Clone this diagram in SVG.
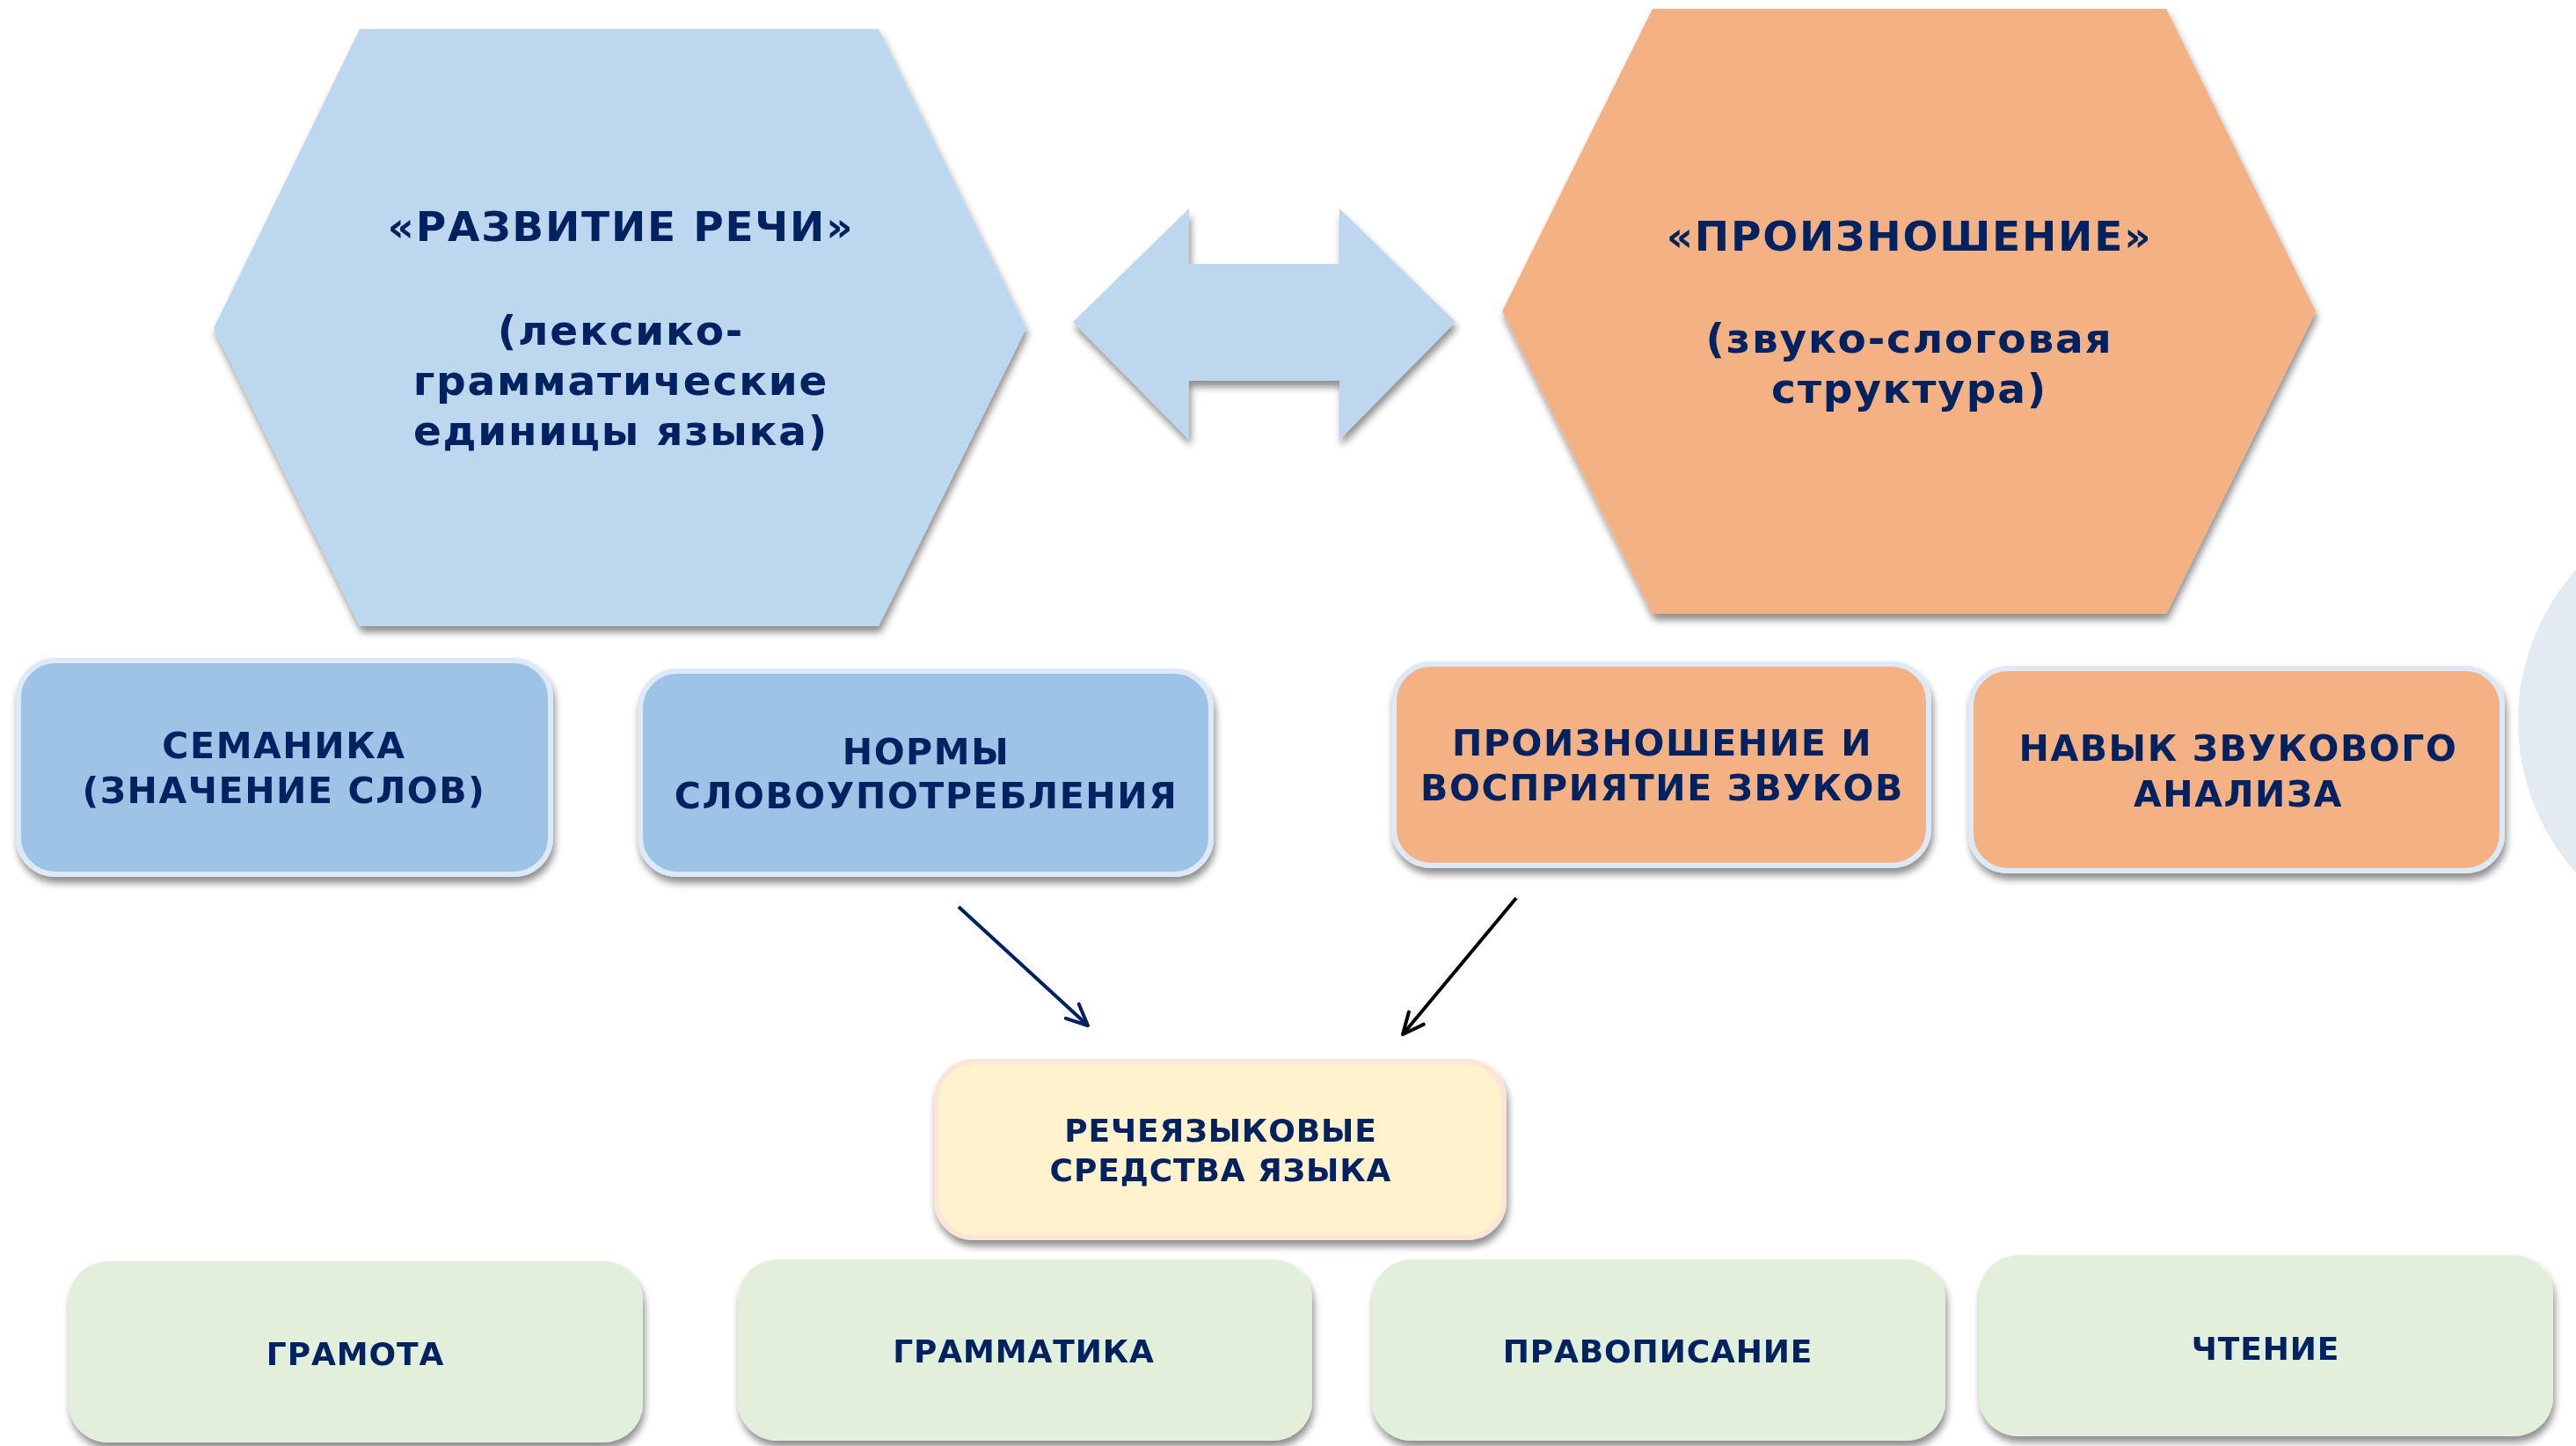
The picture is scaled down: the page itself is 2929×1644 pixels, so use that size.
<svg xmlns="http://www.w3.org/2000/svg" width="2929" height="1644" viewBox="0 0 2929 1644">
<defs>
<filter id="sh" x="-10%" y="-10%" width="120%" height="130%">
<feGaussianBlur in="SourceAlpha" stdDeviation="4"/>
<feOffset dx="2" dy="7" result="b"/>
<feComponentTransfer><feFuncA type="linear" slope="0.45"/></feComponentTransfer>
<feMerge><feMergeNode/><feMergeNode in="SourceGraphic"/></feMerge>
</filter>
<marker id="mNavy" markerUnits="userSpaceOnUse" viewBox="0 0 30 30" markerWidth="30" markerHeight="30" refX="27" refY="15" orient="auto">
<path d="M3,4 L27,15 L3,26" fill="none" stroke="#002060" stroke-width="4" stroke-linecap="round" stroke-linejoin="round"/>
</marker>
<marker id="mBlack" markerUnits="userSpaceOnUse" viewBox="0 0 30 30" markerWidth="30" markerHeight="30" refX="27" refY="15" orient="auto">
<path d="M3,4 L27,15 L3,26" fill="none" stroke="#000000" stroke-width="4" stroke-linecap="round" stroke-linejoin="round"/>
</marker>
</defs>
<style>
text{font-family:"DejaVu Sans","Verdana","Liberation Sans",sans-serif;font-weight:bold;fill:#002060;text-anchor:middle}
.big{font-size:47px;letter-spacing:1.8px}
.mid{font-size:41px;letter-spacing:1.6px}
.sm{font-size:36px;letter-spacing:0.9px}
.hexB{fill:#bdd7ee}
.hexO{fill:#f4b183}
.boxB{fill:#9dc3e6;stroke:#dde9f6;stroke-width:6}
.boxO{fill:#f4b183;stroke:#dde9f6;stroke-width:6}
.boxY{fill:#fff2cc;stroke:#fbe5d6;stroke-width:6}
.boxG{fill:#e2efda}
</style>
<rect width="2929" height="1644" fill="#ffffff"/>
<ellipse cx="3130" cy="820" rx="267" ry="262" fill="#e1ebf1"/>

<g id="hex-razvitie" filter="url(#sh)">
<polygon class="hexB" points="409,33 999,33 1167,373 999,712 409,712 243,373"/>
<text class="big" x="706" y="274">«РАЗВИТИЕ РЕЧИ»</text>
<text class="big" x="706" y="392">(лексико-</text>
<text class="big" x="706" y="449">грамматические</text>
<text class="big" x="706" y="506">единицы языка)</text>
</g>

<g id="double-arrow" filter="url(#sh)">
<polygon class="hexB" points="1220,366 1352,237 1352,300 1523,300 1523,237 1655,366 1523,500 1523,433 1352,433 1352,500"/>
</g>

<g id="hex-proiznoshenie" filter="url(#sh)">
<polygon class="hexO" points="1879,10 2463,10 2633,354 2463,698 1879,698 1708,354"/>
<text class="big" x="2171" y="285">«ПРОИЗНОШЕНИЕ»</text>
<text class="big" x="2171" y="401">(звуко-слоговая</text>
<text class="big" x="2171" y="458">структура)</text>
</g>

<g id="semantika" filter="url(#sh)">
<rect class="boxB" x="21" y="751" width="605" height="243" rx="42"/>
<text class="mid" x="323" y="862">СЕМАНИКА</text>
<text class="mid" x="323" y="913">(ЗНАЧЕНИЕ СЛОВ)</text>
</g>

<g id="normy" filter="url(#sh)">
<rect class="boxB" x="728" y="763" width="649" height="231" rx="42"/>
<text class="mid" x="1053" y="869">НОРМЫ</text>
<text class="mid" x="1053" y="919">СЛОВОУПОТРЕБЛЕНИЯ</text>
</g>

<g id="proizn-zvukov" filter="url(#sh)">
<rect class="boxO" x="1585" y="755" width="608" height="229" rx="42"/>
<text class="mid" x="1890" y="859">ПРОИЗНОШЕНИЕ И</text>
<text class="mid" x="1890" y="910">ВОСПРИЯТИЕ ЗВУКОВ</text>
</g>

<g id="navyk" filter="url(#sh)">
<rect class="boxO" x="2241" y="760" width="604" height="230" rx="42"/>
<text class="mid" x="2545" y="865">НАВЫК ЗВУКОВОГО</text>
<text class="mid" x="2545" y="917">АНАЛИЗА</text>
</g>

<g id="connectors">
<line x1="1090" y1="1031" x2="1237" y2="1166" stroke="#002060" stroke-width="4" marker-end="url(#mNavy)"/>
<line x1="1724" y1="1021" x2="1595" y2="1176" stroke="#000000" stroke-width="4" marker-end="url(#mBlack)"/>
</g>

<g id="recheyaz" filter="url(#sh)">
<rect class="boxY" x="1065" y="1207" width="645" height="200" rx="42"/>
<text class="sm" x="1388" y="1298">РЕЧЕЯЗЫКОВЫЕ</text>
<text class="sm" x="1388" y="1343">СРЕДСТВА ЯЗЫКА</text>
</g>

<g id="gramota" filter="url(#sh)">
<rect class="boxG" x="78" y="1434" width="653" height="206" rx="45"/>
<text class="sm" x="404" y="1552">ГРАМОТА</text>
</g>

<g id="grammatika" filter="url(#sh)">
<rect class="boxG" x="839" y="1432" width="653" height="206" rx="45"/>
<text class="sm" x="1164" y="1549">ГРАММАТИКА</text>
</g>

<g id="pravopisanie" filter="url(#sh)">
<rect class="boxG" x="1560" y="1432" width="652" height="206" rx="45"/>
<text class="sm" x="1885" y="1549">ПРАВОПИСАНИЕ</text>
</g>

<g id="chtenie" filter="url(#sh)">
<rect class="boxG" x="2250" y="1427" width="653" height="206" rx="45"/>
<text class="sm" x="2576" y="1546">ЧТЕНИЕ</text>
</g>
</svg>
